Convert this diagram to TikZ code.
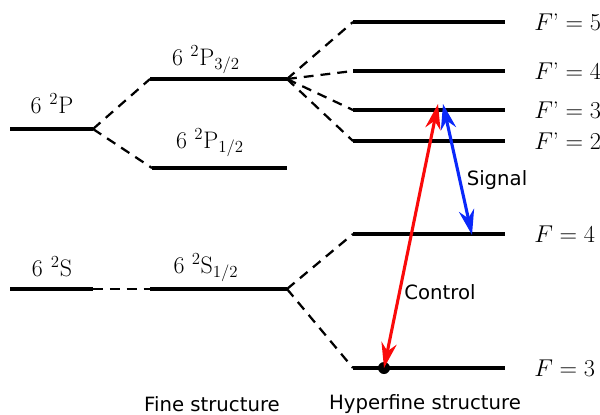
\documentclass[tikz,border=0pt]{standalone}
\usepackage{amsmath}
\usepackage{fontspec}
\newfontfamily\capfont{DejaVu Sans}
\usetikzlibrary{arrows.meta, positioning, calc}
\definecolor{ctrlred}{RGB}{250,10,10}
\definecolor{sigblue}{RGB}{10,40,250}

\tikzset{
  level/.style={line width=2.2pt},
  split/.style={dash pattern=on 7pt off 5pt, line width=1.6pt},
  lvltext/.style={font=\fontsize{17}{19}\selectfont, inner sep=0pt},
  beam/.style={{Stealth[length=18pt,width=11pt]}-{Stealth[length=18pt,width=11pt]}, line width=2.2pt},
  captext/.style={font=\capfont\fontsize{14}{16}\selectfont, inner sep=0pt},
}

\begin{document}
\begin{tikzpicture}[x=0.025cm, y=-0.025cm]
  \useasboundingbox (0,0) rectangle (600,415);

  % Coarse levels
  \coordinate (P0a) at (10,129);  \coordinate (P0b) at (93,129);
  \coordinate (S0a) at (10,289);  \coordinate (S0b) at (93,289);
  \draw[level] (P0a) -- (P0b);
  \draw[level] (S0a) -- (S0b);
  \node[lvltext] (P0lab) at (52,104) {6\,\,$^2$P};
  \node[lvltext] (S0lab) at (52,267) {6\,\,$^2$S};

  % Fine structure
  \coordinate (P3a) at (150,79);  \coordinate (P3b) at (287,79);
  \coordinate (P1a) at (152,168); \coordinate (P1b) at (287,168);
  \coordinate (S1a) at (150,289); \coordinate (S1b) at (287,289);
  \draw[level] (P3a) -- (P3b);
  \draw[level] (P1a) -- (P1b);
  \draw[level] (S1a) -- (S1b);
  \node[lvltext] (P3lab) at (206,60) {6 $^2$P$_{3/2}$};
  \node[lvltext] (P1lab) at (210,143) {6 $^2$P$_{1/2}$};
  \node[lvltext] (S1lab) at (206,268) {6 $^2$S$_{1/2}$};

  \draw[split] (P0b) -- (P3a);
  \draw[split] (P0b) -- (P1a);
  \draw[split] (S0b) -- (S1a);

  % Hyperfine structure
  \def\hx{353}\def\hr{505}
  \foreach \nm/\y/\txt in {e5/22/{F\text{'}=5}, e4/71/{F\text{'}=4},
                           e3/110/{F\text{'}=3}, e2/141/{F\text{'}=2},
                           g4/234/{F=4}, g3/368/{F=3}} {
    \coordinate (\nm a) at (\hx,\y);
    \coordinate (\nm b) at (\hr,\y);
    \draw[level] (\nm a) -- (\nm b);
    \node[lvltext, anchor=west] (\nm lab) at (534,\y) {$\txt$};
  }
  \foreach \nm in {e5,e4,e3,e2}
    \draw[split] (P3b) -- (\nm a);
  \foreach \nm in {g4,g3}
    \draw[split] (S1b) -- (\nm a);

  % Laser couplings
  \coordinate (ctop) at (438,104);
  \coordinate (cbot) at (384,368);
  \coordinate (stop) at (443,104);
  \coordinate (sbot) at (472,235);
  \fill (cbot) circle (6);
  \draw[beam, ctrlred] (cbot) -- (ctop);
  \draw[beam, sigblue] (stop) -- (sbot);
  \node[captext] (siglab) at (497,180) {Signal};
  \node[captext] (ctrllab) at (440,292) {Control};

  % Captions
  \node[captext] (fine) at (212,404) {Fine structure};
  \node[captext] (hyper) at (425,404) {Hyperfine structure};
\end{tikzpicture}
\end{document}
